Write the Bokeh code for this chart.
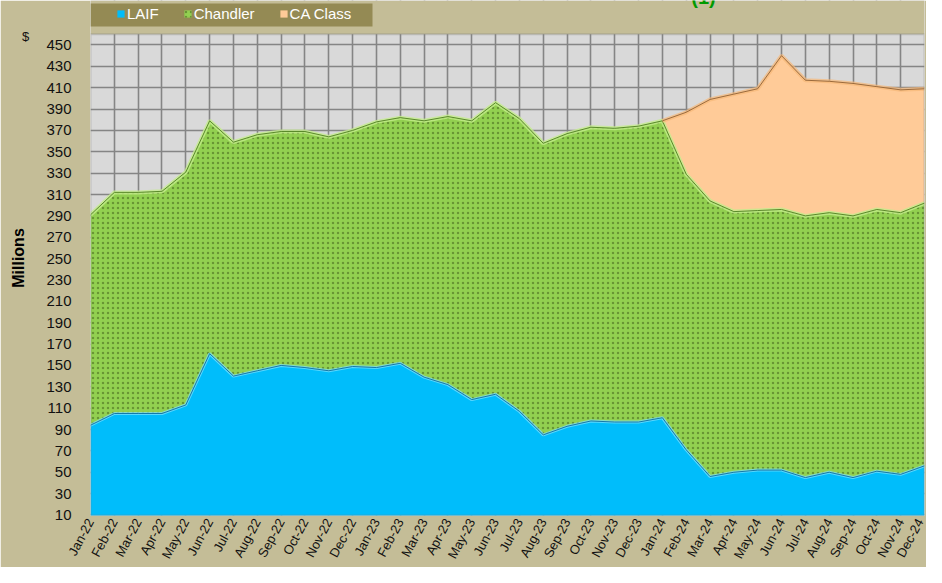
from bokeh.plotting import figure
from bokeh.models import (Range1d, FixedTicker, Legend, LegendItem, Label, ColumnDataSource,
                          BoxAnnotation)
from bokeh.embed import file_html
from bokeh.resources import INLINE

months = ["Jan-22", "Feb-22", "Mar-22", "Apr-22", "May-22", "Jun-22", "Jul-22", "Aug-22",
          "Sep-22", "Oct-22", "Nov-22", "Dec-22", "Jan-23", "Feb-23", "Mar-23", "Apr-23",
          "May-23", "Jun-23", "Jul-23", "Aug-23", "Sep-23", "Oct-23", "Nov-23", "Dec-23",
          "Jan-24", "Feb-24", "Mar-24", "Apr-24", "May-24", "Jun-24", "Jul-24", "Aug-24",
          "Sep-24", "Oct-24", "Nov-24", "Dec-24"]
laif = [94, 105, 105, 105, 113, 161, 140, 145, 150, 148, 145, 149,
        148, 152, 139, 132, 118, 123, 107, 85, 93, 98, 97, 97,
        101, 71, 46, 50, 52, 52, 45, 50, 45, 51, 48, 56]
chandler = [197, 207, 207, 208, 218, 218, 219, 221, 219, 221, 219, 221,
            230, 230, 240, 251, 261, 273, 274, 273, 274, 275, 275, 277,
            278, 258, 258, 244, 243, 244, 245, 243, 245, 245, 245, 246]
ca_class = [0, 0, 0, 0, 0, 0, 0, 0, 0, 0, 0, 0,
            0, 0, 0, 0, 0, 0, 0, 0, 0, 0, 0, 0,
            0, 58, 95, 110, 114, 144, 127, 123, 124, 115, 115, 107]
y_ticks = [10, 30, 50, 70, 90, 110, 130, 150, 170, 190, 210, 230, 250, 270, 290,
           310, 330, 350, 370, 390, 410, 430, 450]

FONT = "Liberation Sans"
BG = "#C4BD97"
W, H = 926, 567
LEFT, RIGHT, BOTTOM = 87, 2, 49
PLOT_TOP = 34               # top of the gray plotting area in canvas px
Y_MIN, Y_MAX = 9.5, 460
frame_h = H - BOTTOM
px_per_unit = (frame_h - PLOT_TOP) / (Y_MAX - Y_MIN)
y_view_top = Y_MAX + PLOT_TOP / px_per_unit

x = list(range(len(months)))
top1 = laif
top2 = [a + b for a, b in zip(laif, chandler)]
top3 = [a + b for a, b in zip(top2, ca_class)]
src = ColumnDataSource(dict(x=x, laif=laif, chandler=chandler, ca_class=ca_class))

p = figure(width=W, height=H, output_backend="svg", toolbar_location=None,
           x_range=Range1d(0, len(months) - 1), y_range=Range1d(Y_MIN, y_view_top),
           min_border_left=LEFT, min_border_right=RIGHT, min_border_top=0,
           min_border_bottom=BOTTOM)
p.background_fill_color = "#D9D9D9"
p.border_fill_color = BG
p.outline_line_color = None

rs = p.varea_stack(["laif", "chandler", "ca_class"], x="x", source=src,
                   color=["#00BDFB", "#92D050", "#FFCB98"])
rs[1].glyph.hatch_pattern = "dot"
rs[1].glyph.hatch_color = "#679634"
rs[1].glyph.hatch_scale = 5
rs[1].glyph.hatch_weight = 2.2

# edge effects
p.line(x, top1, line_color="#7FE3FF", line_width=3, line_alpha=0.7)
p.line(x, top1, line_color="#1478A8", line_width=1)
p.line(x, top2, line_color="#C4EC8C", line_width=4, line_alpha=0.8)
p.line(x, top2, line_color="#5A8A2A", line_width=1)
start = next(i for i, v in enumerate(ca_class) if v > 0) - 1
p.line(x[start:], top3[start:], line_color="#F7B878", line_width=4, line_alpha=0.7)
p.line(x[start:], top3[start:], line_color="#9C6B3C", line_width=1)

# axes
p.xaxis.ticker = FixedTicker(ticks=x)
p.xaxis.major_label_overrides = {i: m for i, m in enumerate(months)}
p.xaxis.major_label_orientation = 1.08
p.yaxis.ticker = FixedTicker(ticks=y_ticks)
for ax in (p.xaxis, p.yaxis):
    ax.axis_line_color = None
    ax.major_tick_line_color = None
    ax.minor_tick_line_color = None
    ax.major_tick_out = 0
    ax.major_tick_in = 0
    ax.minor_tick_out = 0
    ax.major_label_text_font = FONT
    ax.major_label_text_color = "#111111"
p.xaxis.major_label_text_font_size = "13px"
p.xaxis.major_label_standoff = 4
p.yaxis.major_label_text_font_size = "15px"
p.yaxis.major_label_standoff = 19
p.yaxis.axis_label = "Millions"
p.yaxis.axis_label_text_font = FONT
p.yaxis.axis_label_text_font_style = "bold"
p.yaxis.axis_label_text_font_size = "16px"
p.yaxis.axis_label_text_color = "#000000"
p.yaxis.axis_label_standoff = 16

p.xgrid.ticker = FixedTicker(ticks=x)
p.ygrid.ticker = FixedTicker(ticks=y_ticks)
for g in (p.xgrid, p.ygrid):
    g.grid_line_color = "#858585"
    g.grid_line_width = 1.6

# band above the plotting area painted as chart background, plot outline
p.add_layout(BoxAnnotation(bottom=Y_MAX, fill_color=BG, fill_alpha=1, line_color=None))
p.add_layout(BoxAnnotation(top=Y_MAX, fill_alpha=0, line_color="#7F7F7F", line_width=2))

# legend background box
p.add_layout(BoxAnnotation(left=90, right=372, top=3, bottom=26,
                           left_units="canvas", right_units="canvas",
                           top_units="canvas", bottom_units="canvas",
                           fill_color="#948A54", fill_alpha=1, line_color=None))

# title fragment, cut off at the top edge as in the original
p.add_layout(Label(x=703, y=-4, x_units="canvas", y_units="canvas", text="(1)",
                   text_font=FONT, text_font_size="20px", text_font_style="bold",
                   text_align="center", text_baseline="alphabetic", text_color="#009A00"))

p.add_layout(Label(x=25, y=36, x_units="canvas", y_units="canvas", text="$",
                   text_font=FONT, text_font_size="13px", text_align="center",
                   text_baseline="middle", text_color="#111111"), "left")

legend = Legend(items=[LegendItem(label="LAIF", renderers=[rs[0]]),
                       LegendItem(label="Chandler", renderers=[rs[1]]),
                       LegendItem(label="CA Class", renderers=[rs[2]])],
                orientation="horizontal", location=(115 - LEFT - 2, frame_h - 24.5),
                margin=0, padding=2,
                background_fill_alpha=0, border_line_color=None,
                label_text_color="white", label_text_font=FONT,
                label_text_font_size="15px", glyph_width=9, glyph_height=9,
                label_standoff=2, spacing=24, label_height=16, label_width=0)
p.add_layout(legend)

open("out.html", "w").write(file_html(p, INLINE))
